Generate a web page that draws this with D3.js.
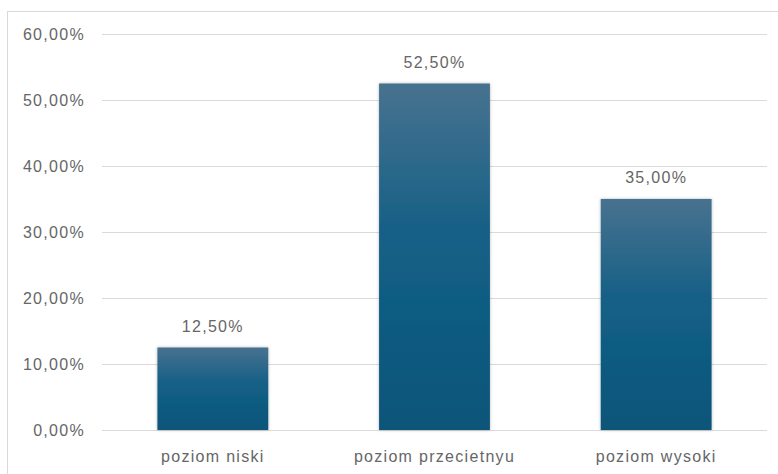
<!DOCTYPE html>
<html>
<head>
<meta charset="utf-8">
<script src="https://cdn.jsdelivr.net/npm/d3@7"></script>
<style>
  body { margin: 0; background: #fff; }
  svg { display: block; font-family: 'Liberation Sans', Arial, sans-serif; }
</style>
</head>
<body>
<div class="canvas"></div>
<script>
const categories = ['poziom niski', 'poziom przecietnyu', 'poziom wysoki']
const values = [12.5, 52.5, 35.0]
const yTicks = [0, 10, 20, 30, 40, 50, 60]

const dims = { width: 778, height: 474 }
const margin = { top: 34, right: 11, bottom: 44, left: 102 }
const innerW = dims.width - margin.left - margin.right
const innerH = dims.height - margin.top - margin.bottom

const fmt = v => d3.format('.2f')(v).replace('.', ',') + '%'

const svg = d3
  .select('.canvas')
  .append('svg')
  .attr('width', dims.width)
  .attr('height', dims.height)

const defs = svg.append('defs')
const grad = defs
  .append('linearGradient')
  .attr('id', 'barGrad')
  .attr('x1', 0).attr('y1', 0).attr('x2', 0).attr('y2', 1)
grad.append('stop').attr('offset', '0%').attr('stop-color', '#47728f')
grad.append('stop').attr('offset', '45%').attr('stop-color', '#145f86')
grad.append('stop').attr('offset', '100%').attr('stop-color', '#0a5579')

const shadow = defs.append('filter').attr('id', 'shadow')
  .attr('x', '-10%').attr('y', '-10%').attr('width', '120%').attr('height', '120%')
shadow.append('feDropShadow')
  .attr('dx', 0).attr('dy', 0).attr('stdDeviation', 1.5)
  .attr('flood-color', '#000').attr('flood-opacity', 0.3)

// chart border (runs off right / bottom edge)
svg.append('rect')
  .attr('x', 7.5).attr('y', 11.5)
  .attr('width', 800).attr('height', 500)
  .attr('fill', 'none')
  .attr('stroke', '#d9d9d9')

const graph = svg.append('g')
  .attr('transform', `translate(${margin.left}, ${margin.top})`)

const x = d3.scaleBand()
  .domain(categories)
  .range([0, innerW])
  .paddingInner(0.5)
  .paddingOuter(0.25)

const y = d3.scaleLinear()
  .domain([0, 60])
  .range([innerH, 0])

//? gridlines
graph.append('g')
  .selectAll('line')
  .data(yTicks)
  .join('line')
  .attr('x1', 0).attr('x2', innerW)
  .attr('y1', d => Math.round(y(d)) + 0.5)
  .attr('y2', d => Math.round(y(d)) + 0.5)
  .attr('stroke', '#dadada')
  .attr('stroke-width', 1)

const styleText = sel => sel
  .attr('fill', '#666')
  .attr('font-size', 16)
  .attr('letter-spacing', 1.3)
  .attr('font-family', "'Liberation Sans', Arial, sans-serif")

//? y axis labels
const yAxis = d3.axisLeft(y)
  .tickValues(yTicks)
  .tickFormat(fmt)
  .tickSize(0)
  .tickPadding(17)
graph.append('g')
  .call(yAxis)
  .call(g => g.select('.domain').remove())
  .selectAll('text')
  .call(styleText)

//? bars
graph.selectAll('rect.bar')
  .data(values)
  .join('rect')
  .attr('class', 'bar')
  .attr('x', (d, i) => x(categories[i]))
  .attr('y', d => y(d))
  .attr('width', x.bandwidth())
  .attr('height', d => innerH - y(d))
  .attr('fill', 'url(#barGrad)')
  .attr('filter', 'url(#shadow)')

//? value labels
graph.selectAll('text.val')
  .data(values)
  .join('text')
  .attr('class', 'val')
  .attr('x', (d, i) => x(categories[i]) + x.bandwidth() / 2)
  .attr('y', d => y(d) - 16)
  .attr('text-anchor', 'middle')
  .text(fmt)
  .call(styleText)

//? x axis labels
const xAxis = d3.axisBottom(x).tickSize(0).tickPadding(21)
graph.append('g')
  .attr('transform', `translate(0, ${innerH})`)
  .call(xAxis)
  .call(g => g.select('.domain').remove())
  .selectAll('text')
  .call(styleText)
</script>
</body>
</html>
